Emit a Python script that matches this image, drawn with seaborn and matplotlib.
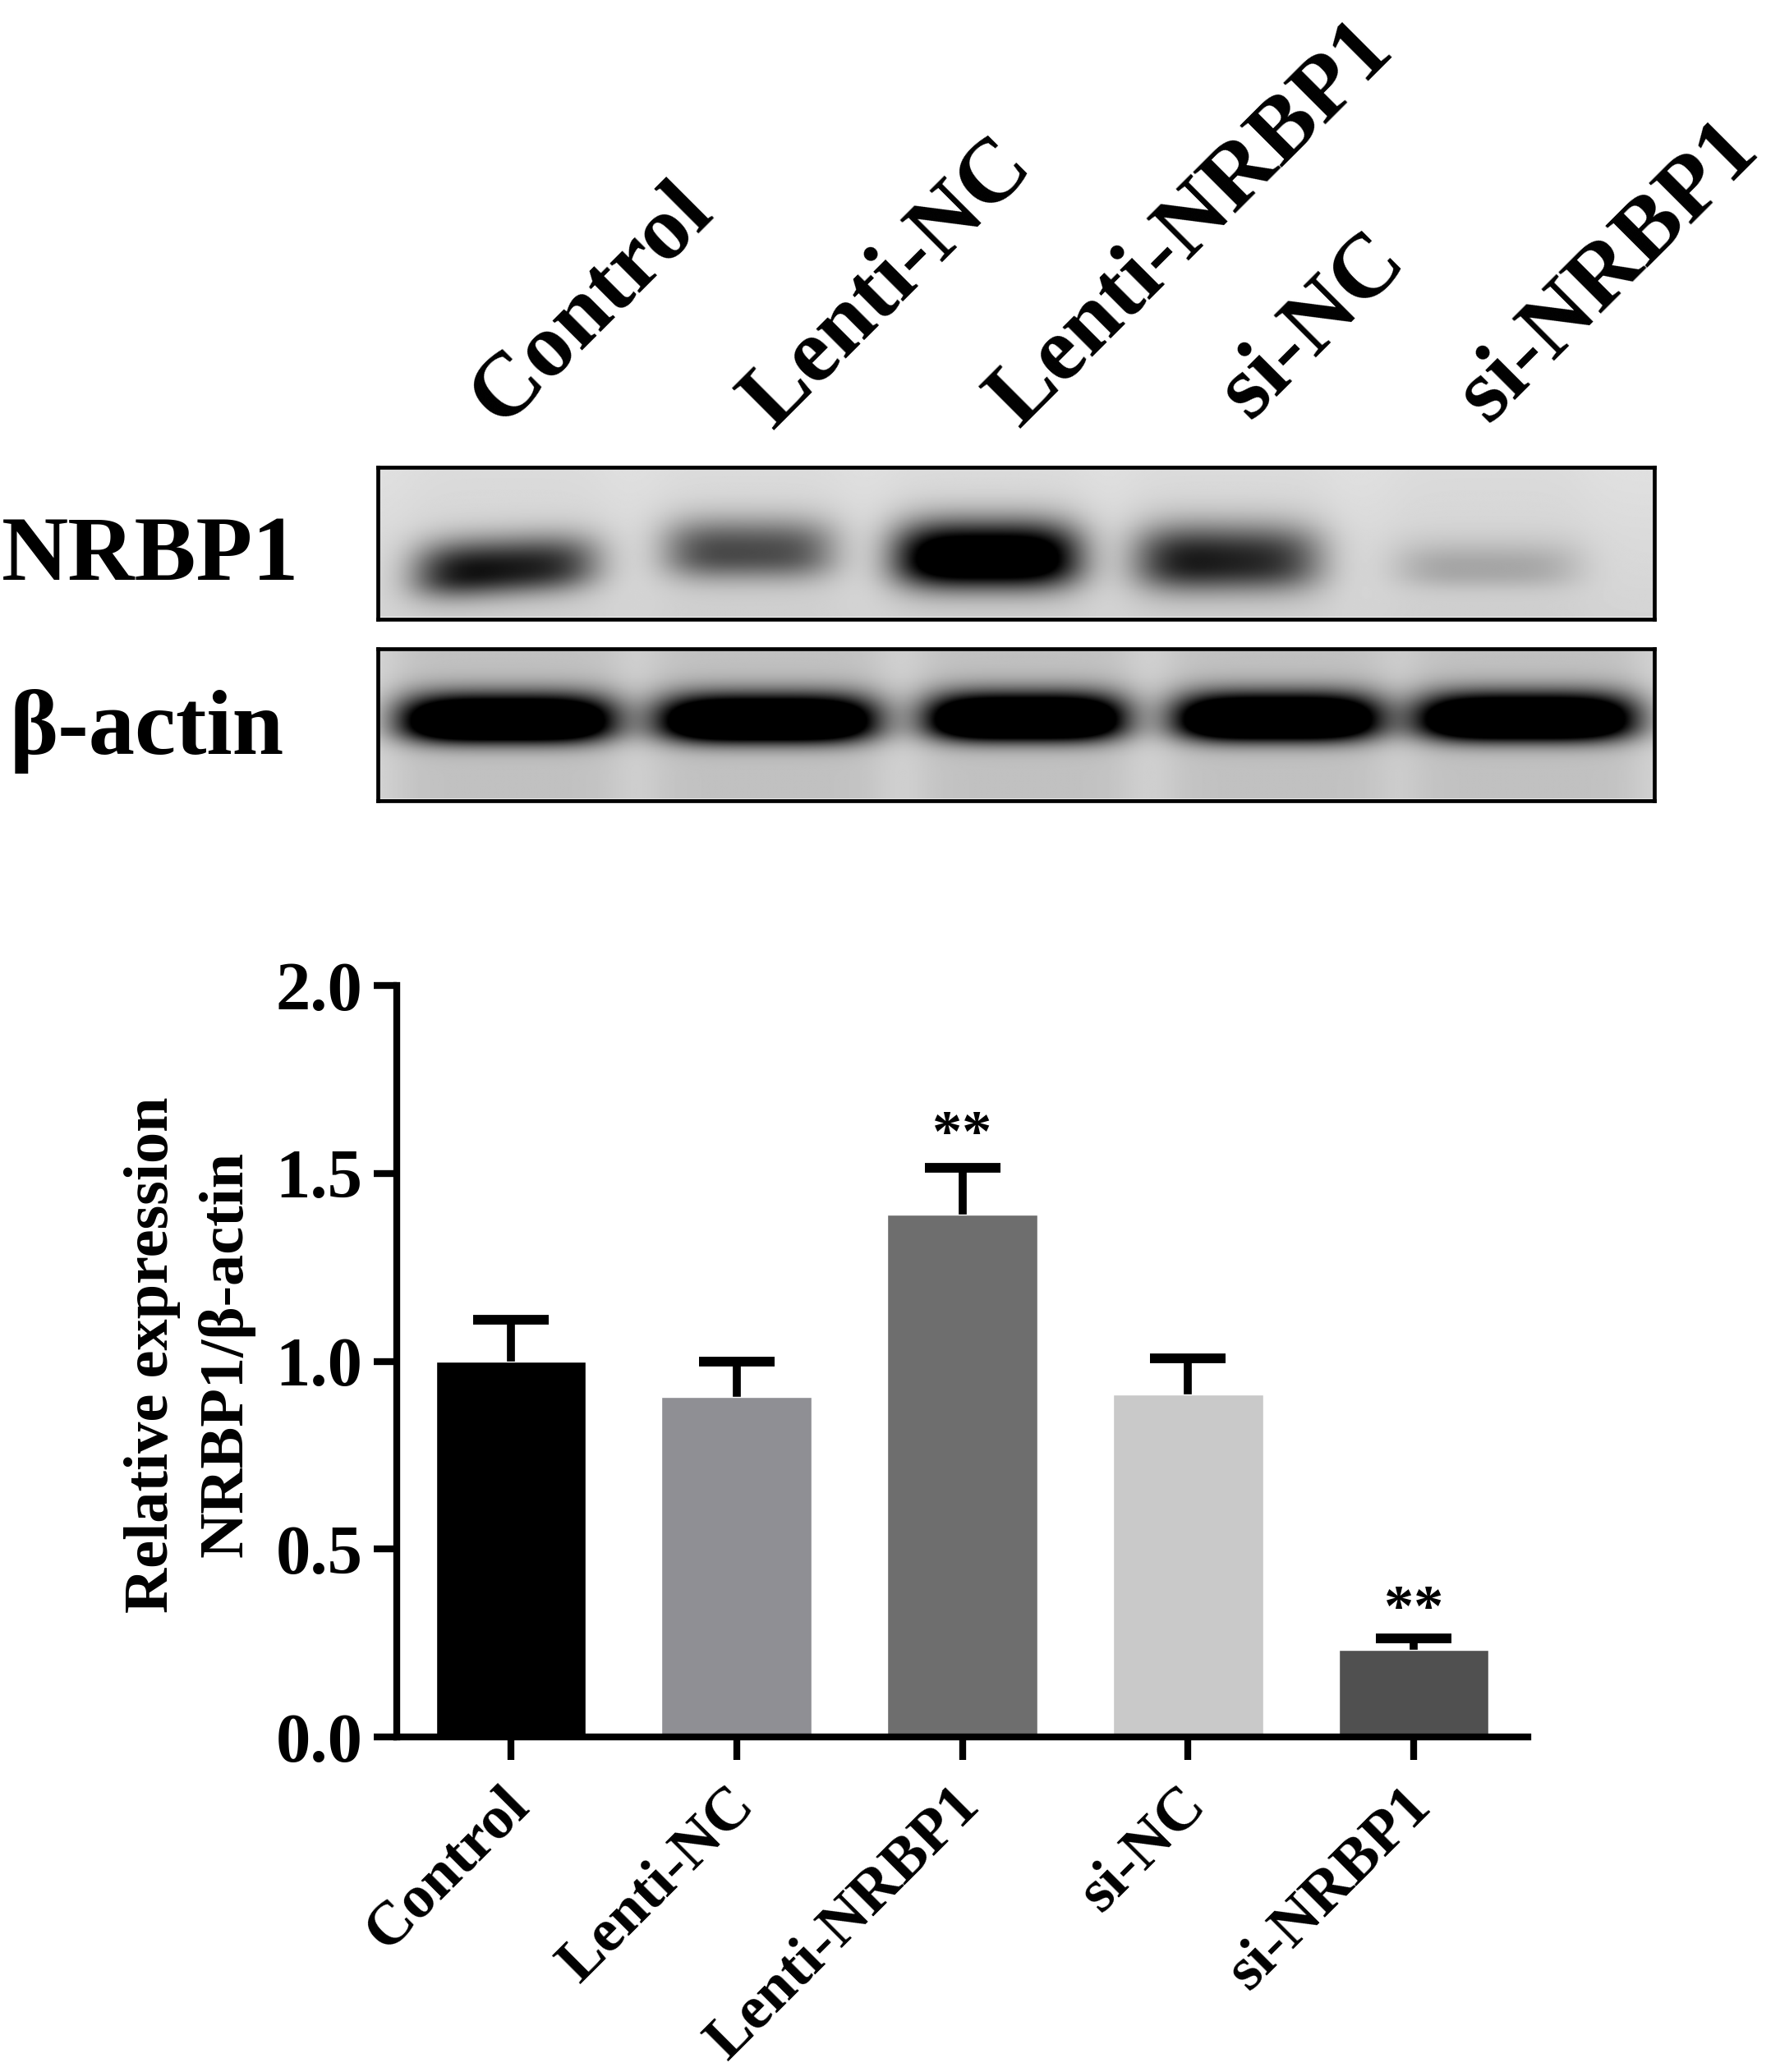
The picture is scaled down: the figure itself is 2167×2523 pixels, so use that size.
import numpy as np
import seaborn as sns
from matplotlib import pyplot as plt
from matplotlib.transforms import ScaledTranslation

groups = ["Control", "Lenti-NC", "Lenti-NRBP1", "si-NC", "si-NRBP1"]
means = [1.0, 0.905, 1.39, 0.912, 0.232]
err_tops = [1.11, 1.0, 1.515, 1.007, 0.262]
bar_colors = ["#000000", "#8f8f94", "#6e6e6e", "#c9c9c9", "#505050"]
y_ticks = [0.0, 0.5, 1.0, 1.5, 2.0]
stars = {2: 1.60, 4: 0.335}

nrbp1_left = [0.030, 0.225, 0.405, 0.595, 0.800]
nrbp1_right = [0.172, 0.358, 0.550, 0.740, 0.942]
nrbp1_y = [0.68, 0.57, 0.61, 0.63, 0.68]
nrbp1_h = [0.16, 0.17, 0.19, 0.19, 0.12]
nrbp1_dark_l = [0.82, 0.55, 1.15, 0.78, 0.17]
nrbp1_dark_r = [0.62, 0.50, 1.15, 0.60, 0.15]
nrbp1_tilt = [-0.50, 0.0, 0.0, 0.0, 0.0]

actin_left = [0.018, 0.220, 0.430, 0.625, 0.815]
actin_right = [0.184, 0.390, 0.585, 0.785, 0.985]
actin_y = [0.49, 0.49, 0.48, 0.48, 0.48]
actin_h = [0.13, 0.13, 0.13, 0.13, 0.13]
actin_dark = [1.45, 1.45, 1.45, 1.45, 1.45]

W, H = 2167, 2523


def px_axes(fig, left, top, right, bottom):
    return fig.add_axes([left / W, 1 - bottom / H, (right - left) / W, (bottom - top) / H])


def blot(ax, lefts, rights, ys, hs, dark_l, dark_r, tilts, top_g, bot_g, smear, halo):
    x = np.linspace(0, 1, 780)
    y = np.linspace(0, 1, 190)
    xx, yy = np.meshgrid(x, y)
    img = top_g + (bot_g - top_g) * yy
    for l, r, yc, h, dl, dr, t in zip(lefts, rights, ys, hs, dark_l, dark_r, tilts):
        xc = (l + r) / 2
        wx = (r - l) / 2
        dy = yy - yc - t * (xx - xc)
        # softer on the upper side, the bands trail upward
        hh = np.where(dy < 0, h * 1.3, h)
        band = np.exp(-(np.abs((xx - xc) / wx) ** 4 + np.abs(dy / hh) ** 2.2))
        dark = dl + (dr - dl) * (xx - l) / (r - l)
        lane = 0.5 * (np.tanh((xx - l + 0.004) / 0.02) - np.tanh((xx - r - 0.004) / 0.02))
        img = img - dark * band - smear * lane * (0.7 + 1.2 * np.exp(-((yy - yc + 0.14) / 0.14) ** 2))
    img = np.clip(img, 0, 1)
    img[:3, :] = halo
    img[-3:, :] = halo
    ax.imshow(img, cmap="gray", vmin=0, vmax=1, aspect="auto", interpolation="bilinear")
    ax.set_xticks([])
    ax.set_yticks([])
    for s in ax.spines.values():
        s.set_linewidth(3.4)
        s.set_color("black")


sns.set_theme(style="ticks")
plt.rcParams["font.family"] = ["Liberation Serif", "DejaVu Serif"]
plt.rcParams["font.weight"] = "bold"
plt.rcParams["text.color"] = "black"
plt.rcParams["axes.labelcolor"] = "black"
plt.rcParams["xtick.labelcolor"] = "black"
plt.rcParams["ytick.labelcolor"] = "black"

fig = plt.figure(figsize=(W / 100, H / 100), dpi=100, facecolor="white")

ax1 = px_axes(fig, 460, 569, 2014, 754)
blot(ax1, nrbp1_left, nrbp1_right, nrbp1_y, nrbp1_h, nrbp1_dark_l, nrbp1_dark_r, nrbp1_tilt,
     0.88, 0.83, 0.03, 0.97)
ax2 = px_axes(fig, 460, 790, 2014, 975)
blot(ax2, actin_left, actin_right, actin_y, actin_h, actin_dark, actin_dark, [0] * 5,
     0.84, 0.84, 0.12, 0.93)

fig.text(2 / W, 1 - 706 / H, "NRBP1", fontsize=81, fontweight="bold", ha="left", va="baseline")
fig.text(12 / W, 1 - 918 / H, "β-actin", fontsize=81, fontweight="bold", ha="left", va="baseline")

label_x = [610, 940, 1240, 1522, 1812]
label_y = [520, 524, 522, 512, 516]
for name, lx, ly in zip(groups, label_x, label_y):
    fig.text(lx / W, 1 - ly / H, name, fontsize=80, fontweight="bold", rotation=45,
             rotation_mode="anchor", ha="left", va="baseline")

ax = px_axes(fig, 483, 1200, 1860, 2115)
sns.barplot(x=groups, y=means, hue=groups, palette=bar_colors, width=0.665, errorbar=None,
            legend=False, saturation=1, ax=ax)
pos = np.arange(len(groups))
upper = np.array(err_tops) - np.array(means)
ax.errorbar(pos, means, yerr=[np.zeros(len(pos)), upper], fmt="none", ecolor="black",
            elinewidth=7, capsize=0, zorder=0.5)
ax.plot(pos, err_tops, ls="none", marker="_", ms=66, mew=8.5, color="black", zorder=3)
for i, v in stars.items():
    ax.text(i, v, "**", fontsize=52, fontweight="bold", ha="center", va="center")

ax.set_xlim(-0.506, 4.506)
ax.set_ylim(0, 2)
ax.set_yticks(y_ticks)
ax.set_yticklabels([f"{t:.1f}" for t in y_ticks], fontsize=61, fontweight="bold")
ax.set_xticks(pos)
ax.set_xticklabels(groups, fontsize=54, fontweight="bold", rotation=45, ha="right",
                   rotation_mode="anchor")
ax.tick_params(axis="y", length=20, width=6, color="black", pad=10)
ax.tick_params(axis="x", length=20, width=6, color="black", pad=15)
shift = ScaledTranslation(-0.13, 0, fig.dpi_scale_trans)
for lab in ax.get_xticklabels():
    lab.set_transform(lab.get_transform() + shift)
ax.set_ylabel("Relative expression\nNRBP1/β-actin", fontsize=55, fontweight="bold", labelpad=18,
              linespacing=1.38, y=0.509)
for s in ["top", "right"]:
    ax.spines[s].set_visible(False)
for s in ["left", "bottom"]:
    ax.spines[s].set_linewidth(6)
    ax.spines[s].set_color("black")

fig.savefig("out.png", dpi=100)
plt.close()
